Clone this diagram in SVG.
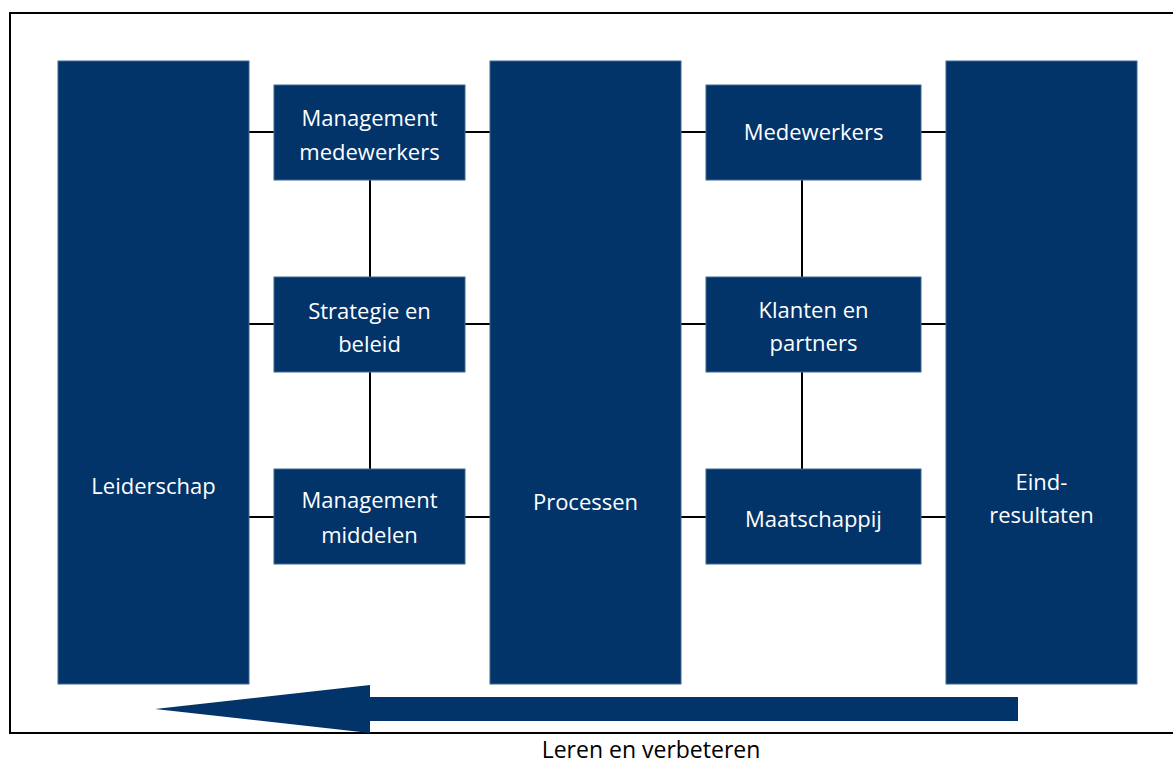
<svg xmlns="http://www.w3.org/2000/svg" width="1173" height="763" viewBox="0 0 1173 763">
<style>
.box{fill:#02346a;stroke:#3f6894;stroke-width:1}
.lbl{font-family:"Open Sans","Liberation Sans",sans-serif;font-size:22px;fill:#ffffff;text-anchor:middle}
.cap{font-family:"Open Sans","Liberation Sans",sans-serif;font-size:23px;fill:#000000;text-anchor:middle}
.ln{stroke:#000000;stroke-width:2;fill:none}
</style>
<rect x="0" y="0" width="1173" height="763" fill="#ffffff"/>
<rect x="10" y="13" width="1175" height="720" fill="none" stroke="#000000" stroke-width="2"/>
<g id="connectors">
<path class="ln" d="M249 132H274M465 132H490M681 132H706M921 132H946"/>
<path class="ln" d="M249 324H274M465 324H490M681 324H706M921 324H946"/>
<path class="ln" d="M249 517H274M465 517H490M681 517H706M921 517H946"/>
<path class="ln" d="M370 180V277M370 372V469M802 180V277M802 372V469"/>
</g>
<g id="leiderschap"><rect class="box" x="58" y="61" width="191" height="623"/><text class="lbl" x="153.5" y="494">Leiderschap</text></g>
<g id="management-medewerkers"><rect class="box" x="274" y="85" width="191" height="95"/><text class="lbl" x="369.5" y="126">Management</text><text class="lbl" x="369.5" y="160">medewerkers</text></g>
<g id="strategie-beleid"><rect class="box" x="274" y="277" width="191" height="95"/><text class="lbl" x="369.5" y="319">Strategie en</text><text class="lbl" x="369.5" y="352">beleid</text></g>
<g id="management-middelen"><rect class="box" x="274" y="469" width="191" height="95"/><text class="lbl" x="369.5" y="508">Management</text><text class="lbl" x="369.5" y="543">middelen</text></g>
<g id="processen"><rect class="box" x="490" y="61" width="191" height="623"/><text class="lbl" x="585.5" y="510">Processen</text></g>
<g id="medewerkers"><rect class="box" x="706" y="85" width="215" height="95"/><text class="lbl" x="813.5" y="140">Medewerkers</text></g>
<g id="klanten-partners"><rect class="box" x="706" y="277" width="215" height="95"/><text class="lbl" x="813.5" y="318">Klanten en</text><text class="lbl" x="813.5" y="351">partners</text></g>
<g id="maatschappij"><rect class="box" x="706" y="469" width="215" height="95"/><text class="lbl" x="813.5" y="527">Maatschappij</text></g>
<g id="eindresultaten"><rect class="box" x="946" y="61" width="191" height="623"/><text class="lbl" x="1041.5" y="490">Eind-</text><text class="lbl" x="1041.5" y="523">resultaten</text></g>
<g id="leren-verbeteren">
<polygon points="1018,697 1018,721 370,721 370,733 155,709 370,685 370,697" fill="#02346a"/>
<text class="cap" x="651" y="758">Leren en verbeteren</text>
</g>
</svg>
